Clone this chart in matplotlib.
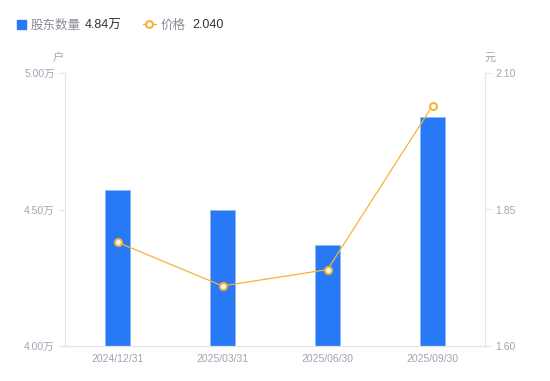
import matplotlib
matplotlib.use('Agg')
import matplotlib.pyplot as plt
from matplotlib.lines import Line2D
import numpy as np

# data
dates = ['2024/12/31', '2025/03/31', '2025/06/30', '2025/09/30']
holders = [4.57, 4.50, 4.37, 4.84]      # 万户
prices = [1.79, 1.71, 1.74, 2.04]       # 元
left_ticks = [4.00, 4.50, 5.00]
right_ticks = [1.60, 1.85, 2.10]

plt.rcParams['font.family'] = ['Liberation Sans', 'Noto Sans CJK SC']

bar_color = '#2779f6'
line_color = '#f7b23b'
tick_color = '#a3a3b3'
axis_color = '#e3e3e8'

fig = plt.figure(figsize=(5.5, 3.81), dpi=100)
ax = fig.add_axes([65 / 550, 35 / 381, 420 / 550, 273 / 381])
x = np.arange(len(dates))

ax.bar(x, holders, width=0.23, color=bar_color, edgecolor='#8fb8fb',
       linewidth=0.6, zorder=2)
ax.set_xlim(-0.5, len(dates) - 0.5)
ax.set_ylim(4.0, 5.0)
ax.set_yticks(left_ticks)
ax.set_yticklabels(['%.2f万' % v for v in left_ticks])
ax.set_xticks(x)
ax.set_xticklabels(dates)

ax2 = ax.twinx()
ax2.plot(x, prices, color=line_color, linewidth=0.9, marker='o',
         markersize=5, markerfacecolor='white', markeredgecolor=line_color,
         markeredgewidth=1.5, zorder=3)
ax2.set_ylim(1.60, 2.10)
ax2.set_yticks(right_ticks)
ax2.set_yticklabels(['%.2f' % v for v in right_ticks])

for a in (ax, ax2):
    for s in a.spines.values():
        s.set_color(axis_color)
    a.spines['top'].set_visible(False)
    a.tick_params(colors=tick_color, labelsize=7.5, length=4, width=0.8)
    a.tick_params(axis='y', color=axis_color)
ax.tick_params(axis='x', length=0, pad=6)
ax.spines['right'].set_visible(False)
ax2.spines['left'].set_visible(False)

# unit labels
fig.text(58 / 550, 1 - 58 / 381, '户', color=tick_color, fontsize=8,
         ha='center', va='center')
fig.text(490 / 550, 1 - 58 / 381, '元', color=tick_color, fontsize=8,
         ha='center', va='center')

# legend row
ly = 1 - 25.5 / 381
fig.patches.append(plt.Rectangle((17 / 550, 1 - 29 / 381), 9 / 550, 9 / 381,
                                 transform=fig.transFigure, color=bar_color))
fig.text(31 / 550, ly, '股东数量', color='#8a8a99', fontsize=9, va='center')
fig.text(85 / 550, ly, '4.84万', color='#333333', fontsize=9, va='center')
fig.lines.append(Line2D([143 / 550, 156 / 550], [1 - 24 / 381, 1 - 24 / 381],
                        transform=fig.transFigure, color=line_color,
                        linewidth=1))
fig.lines.append(Line2D([149.5 / 550], [1 - 24 / 381],
                        transform=fig.transFigure, color=line_color,
                        marker='o', markersize=5, markerfacecolor='white',
                        markeredgewidth=1.5))
fig.text(161 / 550, ly, '价格', color='#8a8a99', fontsize=9, va='center')
fig.text(192 / 550, ly, '2.040', color='#333333', fontsize=9, va='center')

fig.savefig('out.png', dpi=100, facecolor='white')
